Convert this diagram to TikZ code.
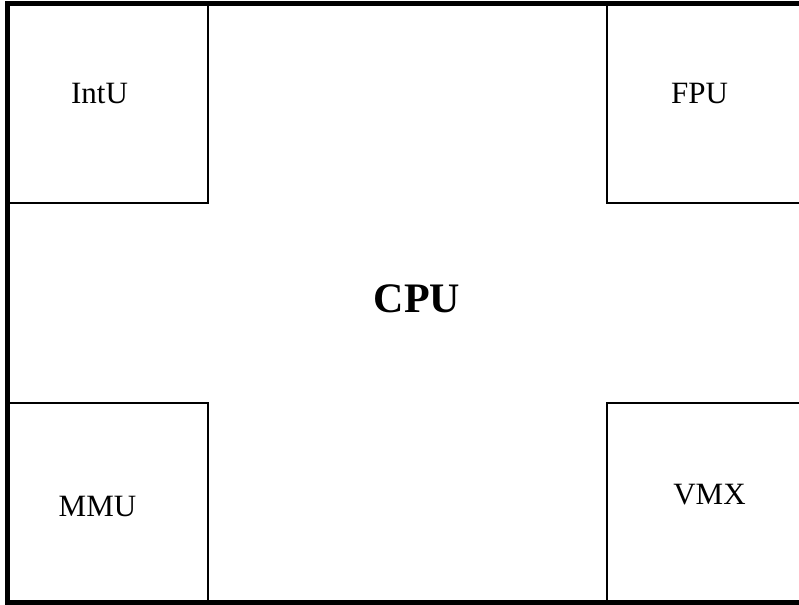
\documentclass[tikz,border=0pt]{standalone}
\usepackage{fontspec}
\setmainfont{Liberation Serif}
\begin{document}
\begin{tikzpicture}[x=1pt,y=-1pt,
  frame/.style={line width=4.6pt},
  unit/.style={draw, line width=1.3pt},
  unitlabel/.style={anchor=base, inner sep=0pt, font=\fontsize{31}{36}\selectfont},
  cpulabel/.style={anchor=base, inner sep=0pt, font=\fontsize{42}{48}\selectfont\bfseries}]
\useasboundingbox (0,0) rectangle (799,604);
\clip (0,0) rectangle (799,604);
% functional units in the four corners
\draw[unit] (7,3) rectangle (208,203);
\draw[unit] (607,3) rectangle (805,203);
\draw[unit] (7,403) rectangle (208,602);
\draw[unit] (607,403) rectangle (805,602);
% processor outline, open on the right
\draw[frame] (810,3.4) -- (7.5,3.4) -- (7.5,602.2) -- (810,602.2);
% labels
\node[unitlabel] (intu) at (99.5,104) {IntU};
\node[unitlabel] (fpu) at (699.5,104) {FPU};
\node[unitlabel] (mmu) at (97.5,516) {MMU};
\node[unitlabel] (vmx) at (709.5,504) {VMX};
\node[cpulabel] (cpu) at (417,312) {CPU};
\end{tikzpicture}
\end{document}
